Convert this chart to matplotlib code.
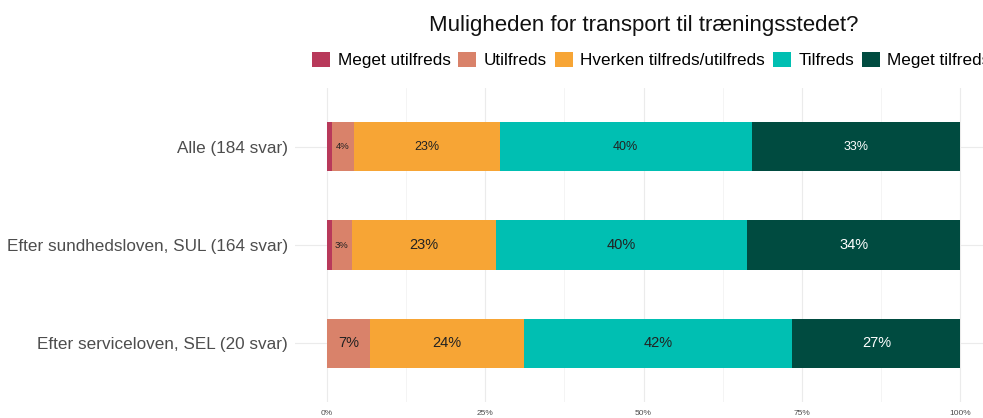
import matplotlib
matplotlib.use("Agg")
import matplotlib.pyplot as plt
import numpy as np
from matplotlib.patches import Patch

plt.rcParams['font.family'] = ['Liberation Sans', 'DejaVu Sans']

title = "Muligheden for transport til træningsstedet?"
categories = ["Alle (184 svar)", "Efter sundhedsloven, SUL (164 svar)", "Efter serviceloven, SEL (20 svar)"]
series_names = ["Meget utilfreds", "Utilfreds", "Hverken tilfreds/utilfreds", "Tilfreds", "Meget tilfreds"]
colors = ["#B8395A", "#D9826A", "#F7A535", "#00BFB2", "#004B40"]
text_colors = ["#222222", "#222222", "#222222", "#222222", "#FFFFFF"]

# percentages per category (rows) for each series (columns)
meget_utilfreds = [0.8, 0.85, 0.0]
utilfreds = [3.5, 3.1, 6.9]
hverken = [23.0, 22.8, 24.2]
tilfreds = [39.8, 39.6, 42.4]
meget_tilfreds = [32.9, 33.65, 26.5]
labels = [
    ["", "4%", "23%", "40%", "33%"],
    ["", "3%", "23%", "40%", "34%"],
    ["", "7%", "24%", "42%", "27%"],
]
xticks = [0, 25, 50, 75, 100]
xticklabels = ["0%", "25%", "50%", "75%", "100%"]

W, H = 983, 418
fig = plt.figure(figsize=(W / 100, H / 100), dpi=100)
ax_left, ax_right = 295, 992
ax_top, ax_bottom = 88, 402
ax = fig.add_axes([ax_left / W, (H - ax_bottom) / H, (ax_right - ax_left) / W, (ax_bottom - ax_top) / H])

values = np.array([meget_utilfreds, utilfreds, hverken, tilfreds, meget_tilfreds]).T
ypos = [3, 2, 1]
bar_h = 0.5
for i, y in enumerate(ypos):
    left = 0.0
    for j in range(len(series_names)):
        v = values[i, j]
        if v > 0:
            ax.barh(y, v, left=left, height=bar_h, color=colors[j], edgecolor="none", zorder=3)
            lab = labels[i][j]
            if lab:
                small = v < 5
                fs = 6.8 if small else (9 if i == 0 else 10.5)
                ax.text(left + v / 2, y, lab, ha="center", va="center", fontsize=fs,
                        color=text_colors[j], zorder=4)
        left += v

ax.set_xlim(-5, 105)
ax.set_ylim(0.4, 3.6)
ax.set_xticks(xticks)
ax.set_xticklabels(xticklabels, fontsize=6, color="#4D4D4D")
ax.set_xticks([12.5, 37.5, 62.5, 87.5], minor=True)
ax.set_yticks(ypos)
ax.set_yticklabels(categories, fontsize=12.3, color="#4D4D4D")
ax.tick_params(axis="both", which="both", length=0)
ax.tick_params(axis="x", pad=6)
ax.tick_params(axis="y", pad=5)
ax.grid(True, which="major", color="#EBEBEB", linewidth=0.8, zorder=0)
ax.grid(True, which="minor", axis="x", color="#F3F3F3", linewidth=0.6, zorder=0)
for s in ax.spines.values():
    s.set_visible(False)

fig.text(644 / W, 1 - 25 / H, title, ha="center", va="center", fontsize=16, color="#111111")

handles = [Patch(facecolor=c, edgecolor="none") for c in colors]
fig.legend(handles, series_names, loc="center left", bbox_to_anchor=(312 / W, 1 - 60 / H),
           ncol=5, frameon=False, fontsize=12.3, handlelength=1.05, handleheight=1.05,
           handletextpad=0.45, columnspacing=0.45, borderaxespad=0, borderpad=0)

fig.savefig("out.png", dpi=100)
